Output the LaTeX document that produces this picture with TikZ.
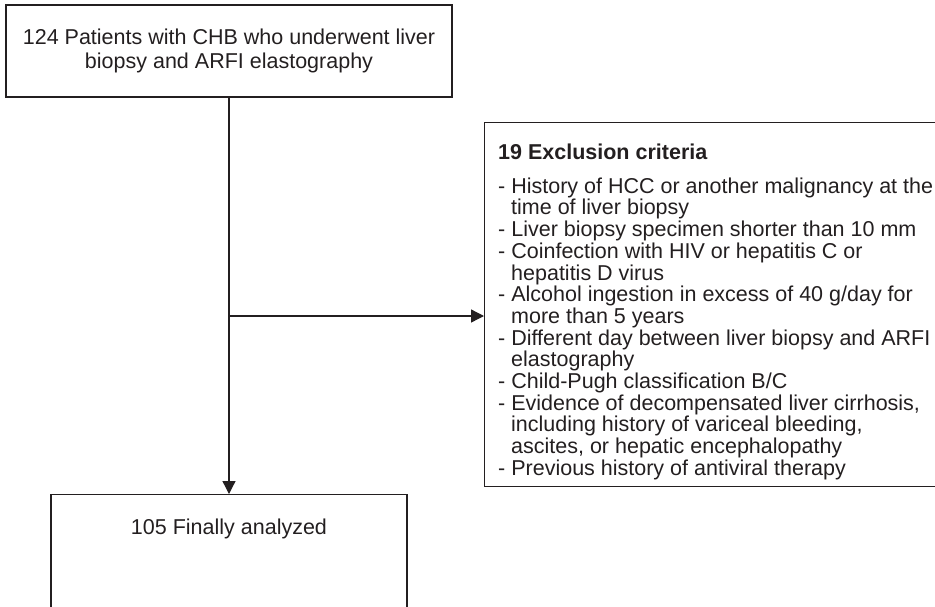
\documentclass[tikz,border=0pt]{standalone}
\usepackage{fontspec}
\setmainfont{Liberation Sans}
\usepackage{xcolor}
\usetikzlibrary{arrows.meta}
\definecolor{ink}{HTML}{231F20}
\newcommand{\hangpad}{\hspace*{13pt}}

\begin{document}
\begin{tikzpicture}[x=1pt,y=-1pt,
  txt/.style={text=ink,font=\fontsize{21.5}{24}\selectfont},
  box/.style={draw=ink,line width=1.3pt,txt,inner sep=0pt},
  arr/.style={draw=ink,line width=1.3pt,-{Triangle[length=13pt,width=13pt]}}]
\useasboundingbox (0,0) rectangle (935,606);
\clip (0,0) rectangle (935,606);

\node[box,minimum width=446pt,minimum height=92pt,align=center] (patients) at (229,51)
  {124 Patients with CHB who underwent liver\\biopsy and ARFI elastography};

\node[box,minimum width=470pt,minimum height=364pt,anchor=north west] (excl) at (484,122) {};
\node[txt,font=\fontsize{21.5}{21.7}\selectfont,align=left,anchor=north west,inner sep=0pt] (exclText) at (498,143.5)
  {\textbf{19 Exclusion criteria}\\[12.3pt]
   - History of HCC or another malignancy at the\\
   \hangpad time of liver biopsy\\
   - Liver biopsy specimen shorter than 10 mm\\
   - Coinfection with HIV or hepatitis C or\\
   \hangpad hepatitis D virus\\
   - Alcohol ingestion in excess of 40 g/day for\\
   \hangpad more than 5 years\\
   - Different day between liver biopsy and ARFI\\
   \hangpad elastography\\
   - Child-Pugh classification B/C\\
   - Evidence of decompensated liver cirrhosis,\\
   \hangpad including history of variceal bleeding,\\
   \hangpad ascites, or hepatic encephalopathy\\
   - Previous history of antiviral therapy};

\node[box,minimum width=356pt,text height=39.7pt,text depth=100pt,anchor=north] (analyzed) at (229,494)
  {105 Finally analyzed};

\coordinate (branch) at (patients.south |- 0,316);
\draw[arr] (patients.south) -- (analyzed.north);
\draw[arr] (branch) -- (branch -| excl.west);
\end{tikzpicture}
\end{document}
